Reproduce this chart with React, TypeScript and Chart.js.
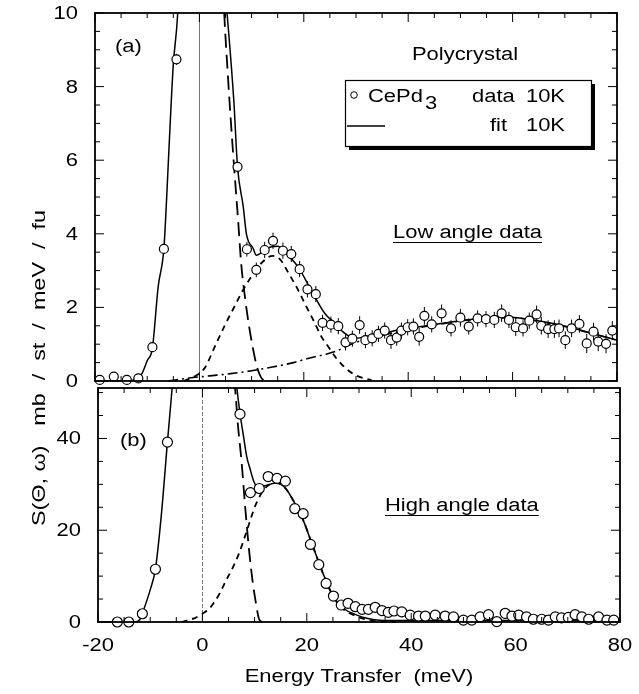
import React, { useEffect, useRef } from "react";
import { Chart, registerables } from "chart.js";
Chart.register(...registerables);

// ---------- data: top panel (low angle) ----------
const topX = [-19.1,-16.4,-13.9,-11.7,-9.0,-6.8,-4.4,7.3,9.1,10.9,12.5,14.1,16.0,17.6,19.2,20.7,22.3,23.6,25.2,26.6,28.0,29.3,30.7,31.8,33.1,34.3,35.5,36.7,37.8,38.7,39.9,41.0,42.1,43.1,44.5,46.4,48.2,50.0,51.6,53.3,54.9,56.5,57.9,59.3,60.6,62.0,63.2,64.6,65.5,66.8,68.0,68.9,70.1,71.3,72.8,74.2,75.5,76.4,77.9,79.1];
const topY = [0.03,0.12,0.03,0.07,0.92,3.59,8.74,5.82,3.58,3.02,3.56,3.81,3.54,3.45,3.04,2.49,2.36,1.58,1.53,1.49,1.05,1.15,1.52,1.11,1.16,1.28,1.37,1.11,1.18,1.37,1.46,1.48,1.20,1.77,1.54,1.84,1.43,1.72,1.48,1.70,1.68,1.66,1.84,1.66,1.46,1.43,1.64,1.81,1.50,1.41,1.41,1.43,1.11,1.43,1.55,1.02,1.34,1.07,1.01,1.37];
const topErr = [0.04,0.04,0.04,0.04,0.06,0.1,0.15,0.15,0.2,0.2,0.22,0.22,0.22,0.22,0.22,0.22,0.22,0.22,0.22,0.22,0.22,0.22,0.24,0.22,0.22,0.22,0.22,0.24,0.22,0.22,0.22,0.22,0.24,0.24,0.22,0.24,0.22,0.24,0.22,0.22,0.22,0.22,0.24,0.22,0.24,0.22,0.22,0.24,0.24,0.24,0.24,0.24,0.24,0.24,0.24,0.26,0.24,0.26,0.26,0.26];

const fitTopX = [-20,-14,-12,-11,-10,-9,-7.9,-6.8,-6.3,-5.7,-5.0,-4.2,-3,0,3,4.6,5.3,6.6,7.3,8.4,9.0,10.3,10.9,12,13.8,15,16.3,18.9,21.4,24,25.9,27.8,29.8,31.7,35.6,38.1,44.5,50,58,62,67.5,72,76,80];
const fitTopY = [0,0.01,0.04,0.2,0.55,0.9,2.56,3.6,4.9,6.7,8.6,9.9,14,24,14,11.2,10,7.6,5.82,4.74,4.0,3.6,3.42,3.5,3.65,3.66,3.51,3.1,2.47,1.84,1.57,1.3,1.16,1.2,1.3,1.39,1.52,1.64,1.74,1.7,1.57,1.42,1.26,1.11];

const elTopX = [3.8,4.6,5.5,6.5,7.4,8.0,8.8,9.5,10.2,11.0,11.8,12.5];
const elTopY = [14,10.5,8.2,6.1,4.4,3.2,2.2,1.5,0.93,0.4,0.1,0];

const cefTopX = [-3,-1,1,3,5,7,8,10,12,14,15.5,17,19,20.2,21.8,23.4,24.7,26,28,30,33];
const cefTopY = [0,0.12,0.35,0.95,1.55,2.1,2.38,2.85,3.22,3.4,3.3,2.95,2.45,2.1,1.66,1.2,0.93,0.66,0.35,0.15,0.02];

const magX = [-6,-2,2,6,10,14,18,21,24,26,28,30,33,36,40,45,50,55,60,65,70,75,80];
const magY = [0,0.08,0.14,0.2,0.28,0.38,0.5,0.62,0.72,0.8,0.93,1.05,1.18,1.27,1.4,1.52,1.63,1.7,1.72,1.62,1.48,1.3,1.11];

// ---------- data: bottom panel (high angle) ----------
const botX = [-16.3,-14.1,-11.5,-9.0,-6.7,7.2,9.2,10.9,12.6,14.3,15.9,17.7,19.3,20.7,22.3,23.7,25.1,26.6,27.9,29.3,30.6,31.8,33.1,34.4,35.6,36.7,38.2,39.8,41.4,42.7,44.6,46.5,48.1,50.0,51.6,53.2,54.8,56.4,58.0,59.3,60.6,62.1,63.4,65.0,66.3,67.6,68.8,70.1,71.4,72.7,74.0,75.9,77.5,78.8];
const botY = [0.0,0.0,1.8,11.5,39.2,45.3,28.2,29.1,31.7,31.3,30.7,24.7,23.6,16.9,12.5,8.4,5.65,3.7,4.07,3.33,2.76,2.76,3.2,2.5,2.1,2.4,2.2,1.5,1.3,1.3,1.5,1.3,1.1,0.4,0.4,1.1,1.6,0.1,1.9,1.3,1.5,1.1,0.6,0.6,0.4,1.1,0.9,1.0,1.6,1.1,0.6,1.1,0.4,0.4];

const fitBotX = [-20,-13,-12,-11.5,-10,-9,-7.9,-6.7,-5.8,-4.5,0,4,6.6,7.2,7.9,8.5,9.1,9.8,10.6,12.3,14.2,15.8,17.4,19.3,21.2,23.1,25.1,27,29.6,31.5,33.4,36,45,60,70,80];
const fitBotY = [0,0,0.5,1.9,7,11.5,22.9,39.2,51,70,120,80,51,45.5,40.3,36,33.5,30.8,29.3,29.8,30.3,29.3,26.5,22.2,16.4,10.6,5.5,3.0,1.5,0.8,0.43,0.3,0.3,0.3,0.25,0.2];

const elBotX = [4,6.4,6.8,7.5,8.2,9.0,9.6,10.2,10.9,11.5];
const elBotY = [80,49,43,35,25,15,9,4.5,0.5,0];

const cefBotX = [-4,-1.6,0,1.4,3.3,4.5,5.8,7,8.4,10.3,12.2,14.2,15.8,17.4,19.3,21.2,23.1,25.1,27,29.6,31.5,34,37];
const cefBotY = [0,0.8,1.8,3.0,6.2,9,11.8,14.9,19.5,25.8,29.4,30.3,29.3,26.5,22.2,16.4,10.6,5.5,2.8,1.2,0.5,0.1,0];

// ---------- ticks / labels ----------
const xTickLabels = [-20, 0, 20, 40, 60, 80];
const topYTickLabels = [0, 2, 4, 6, 8, 10];
const botYTickLabels = [0, 20, 40];

const FONT = '"Liberation Sans", Arial, Helvetica, sans-serif';
const SX = 1.22;

function txt(ctx: any, s: string, x: number, y: number, align: any = "left", size = 18, baseline: any = "alphabetic", sx = SX) {
  ctx.save();
  ctx.font = `${size}px ${FONT}`;
  ctx.fillStyle = "#000";
  ctx.textAlign = align;
  ctx.textBaseline = baseline;
  ctx.translate(x, y);
  ctx.scale(sx, 1);
  ctx.fillText(s, 0, 0);
  const w = ctx.measureText(s).width * sx;
  ctx.restore();
  return w;
}

const pts = (xs: number[], ys: number[]) => xs.map((x, i) => ({ x, y: ys[i] }));

function lineDs(xs: number[], ys: number[], dash: number[], width: number) {
  return {
    type: "line",
    data: pts(xs, ys),
    borderColor: "#000",
    borderWidth: width,
    borderDash: dash,
    pointRadius: 0,
    fill: false,
    cubicInterpolationMode: "monotone",
    clip: { left: 0, top: 0, right: 0, bottom: 4 },
  };
}

function drawFrame(chart: any, yStep: number, yMajor: number, yLabels: number[], showX: boolean) {
  const { ctx, chartArea: a, scales } = chart;
  const x = scales.x, y = scales.y;
  ctx.save();
  ctx.strokeStyle = "#000";
  ctx.lineWidth = 1;
  ctx.beginPath();
  for (let v = -20; v <= 80.001; v += 5) {
    const px = x.getPixelForValue(v);
    const L = Math.abs(v % 20) < 1e-6 ? 9 : 5;
    ctx.moveTo(px, a.bottom); ctx.lineTo(px, a.bottom - L);
    ctx.moveTo(px, a.top); ctx.lineTo(px, a.top + L);
  }
  for (let v = y.min; v <= y.max + 1e-6; v += yStep) {
    const py = y.getPixelForValue(v);
    const r = v / yMajor;
    const L = Math.abs(r - Math.round(r)) < 1e-6 ? 9 : 5;
    ctx.moveTo(a.left, py); ctx.lineTo(a.left + L, py);
    ctx.moveTo(a.right, py); ctx.lineTo(a.right - L, py);
  }
  ctx.stroke();
  ctx.lineWidth = 1.8;
  ctx.strokeRect(a.left, a.top, a.right - a.left, a.bottom - a.top);
  ctx.restore();
  yLabels.forEach((v) => txt(ctx, String(v), a.left - 17, y.getPixelForValue(v) + 1, "right", 18, "middle"));
  if (showX) xTickLabels.forEach((v) => txt(ctx, String(v), x.getPixelForValue(v), a.bottom + 24, "center", 18, "middle"));
}

function zeroLine(chart: any, dashed: boolean) {
  const { ctx, chartArea: a, scales } = chart;
  const px = Math.round(scales.x.getPixelForValue(0)) + 0.5;
  ctx.save();
  ctx.strokeStyle = "#777";
  ctx.lineWidth = 1;
  if (dashed) ctx.setLineDash([4, 2]);
  ctx.beginPath(); ctx.moveTo(px, a.top); ctx.lineTo(px, a.bottom); ctx.stroke();
  ctx.restore();
}

const topPlugin = {
  id: "decoTop",
  beforeDatasetsDraw(chart: any) {
    zeroLine(chart, false);
    const { ctx, scales } = chart;
    ctx.save();
    ctx.strokeStyle = "#000";
    ctx.lineWidth = 1;
    ctx.beginPath();
    topX.forEach((xv, i) => {
      const px = scales.x.getPixelForValue(xv);
      ctx.moveTo(px, scales.y.getPixelForValue(topY[i] - topErr[i]));
      ctx.lineTo(px, scales.y.getPixelForValue(topY[i] + topErr[i]));
    });
    ctx.stroke();
    ctx.restore();
  },
  afterDraw(chart: any) {
    const { ctx } = chart;
    drawFrame(chart, 0.5, 2, topYTickLabels, false);
    txt(ctx, "(a)", 115, 52, "left", 18);
    txt(ctx, "Polycrystal", 465, 60, "center", 18);
    // legend box
    ctx.save();
    ctx.fillStyle = "#fff";
    ctx.fillRect(345, 80, 246, 66);
    ctx.strokeStyle = "#000";
    ctx.lineWidth = 1.2;
    ctx.strokeRect(345.5, 80.5, 246, 66);
    ctx.fillStyle = "#000";
    ctx.fillRect(591, 84, 4, 66);
    ctx.fillRect(349, 146, 246, 4);
    ctx.beginPath();
    ctx.arc(354, 95, 3.3, 0, Math.PI * 2);
    ctx.lineWidth = 1;
    ctx.stroke();
    ctx.beginPath();
    ctx.moveTo(347, 126); ctx.lineTo(385, 126);
    ctx.lineWidth = 1.5;
    ctx.stroke();
    ctx.restore();
    const w = txt(ctx, "CePd", 368, 102, "left", 18);
    txt(ctx, "3", 368 + w + 2, 109, "left", 18);
    txt(ctx, "data", 472, 102, "left", 18);
    txt(ctx, "10K", 565, 102, "right", 18);
    txt(ctx, "fit", 490, 131, "left", 18);
    txt(ctx, "10K", 565, 131, "right", 18);
    // low angle data
    const w2 = txt(ctx, "Low angle data", 393, 238, "left", 18);
    ctx.save();
    ctx.strokeStyle = "#000"; ctx.lineWidth = 1;
    ctx.beginPath(); ctx.moveTo(393, 242.5); ctx.lineTo(393 + w2, 242.5); ctx.stroke();
    ctx.restore();
    // y title
    ctx.save();
    ctx.translate(40, 368);
    ctx.rotate(-Math.PI / 2);
    ctx.scale(1.3, 1);
    ctx.font = `18px ${FONT}`;
    ctx.fillStyle = "#000";
    ctx.textAlign = "center";
    ctx.textBaseline = "middle";
    ctx.fillText("S(\u0398, \u03C9)   mb  /  st  /  meV  /  fu", 0, 0);
    ctx.restore();
  },
};

const botPlugin = {
  id: "decoBot",
  beforeDatasetsDraw(chart: any) {
    zeroLine(chart, true);
  },
  afterDraw(chart: any) {
    const { ctx } = chart;
    drawFrame(chart, 5, 20, botYTickLabels, true);
    txt(ctx, "(b)", 120, 446, "left", 18);
    const w = txt(ctx, "High angle data", 385, 511, "left", 18);
    ctx.save();
    ctx.strokeStyle = "#000"; ctx.lineWidth = 1;
    ctx.beginPath(); ctx.moveTo(385, 515.5); ctx.lineTo(385 + w, 515.5); ctx.stroke();
    ctx.restore();
    txt(ctx, "Energy Transfer  (meV)", 359, 682, "center", 18);
  },
};

function makeConfig(points: any[], r: number, lines: any[], ymax: number, pad: any, plugin: any) {
  return {
    type: "scatter",
    data: {
      datasets: [
        {
          type: "scatter",
          data: points,
          pointRadius: r,
          pointStyle: "circle",
          backgroundColor: "#fff",
          borderColor: "#000",
          borderWidth: 1.2,
          clip: false,
        },
        ...lines,
      ],
    },
    options: {
      responsive: false,
      maintainAspectRatio: false,
      devicePixelRatio: 1,
      animation: false,
      events: [],
      layout: { padding: pad },
      scales: {
        x: { type: "linear", min: -20, max: 80, display: false },
        y: { type: "linear", min: 0, max: ymax, display: false },
      },
      plugins: { legend: { display: false }, tooltip: { enabled: false } },
    },
    plugins: [plugin],
  } as any;
}

export default function App() {
  const topRef = useRef<HTMLCanvasElement>(null);
  const botRef = useRef<HTMLCanvasElement>(null);
  useEffect(() => {
    const c1 = new Chart(
      topRef.current!,
      makeConfig(
        pts(topX, topY),
        4.5,
        [
          lineDs(fitTopX, fitTopY, [], 1.5),
          lineDs(elTopX, elTopY, [14, 7], 1.8),
          lineDs(cefTopX, cefTopY, [6, 5], 1.8),
          lineDs(magX, magY, [10, 4, 2, 4], 1.6),
        ],
        10,
        { left: 95, right: 22, top: 13, bottom: 313 },
        topPlugin
      )
    );
    const c2 = new Chart(
      botRef.current!,
      makeConfig(
        pts(botX, botY),
        5,
        [
          lineDs(fitBotX, fitBotY, [], 1.5),
          lineDs(elBotX, elBotY, [14, 7], 1.8),
          lineDs(cefBotX, cefBotY, [6, 5], 1.8),
        ],
        51,
        { left: 98, right: 19, top: 388, bottom: 72 },
        botPlugin
      )
    );
    return () => {
      c1.destroy();
      c2.destroy();
    };
  }, []);
  return (
    <div style={{ position: "absolute", left: 0, top: 0, width: 639, height: 694, background: "#fff" }}>
      <canvas ref={topRef} width={639} height={694} style={{ position: "absolute", left: 0, top: 0 }} />
      <canvas ref={botRef} width={639} height={694} style={{ position: "absolute", left: 0, top: 0 }} />
    </div>
  );
}
